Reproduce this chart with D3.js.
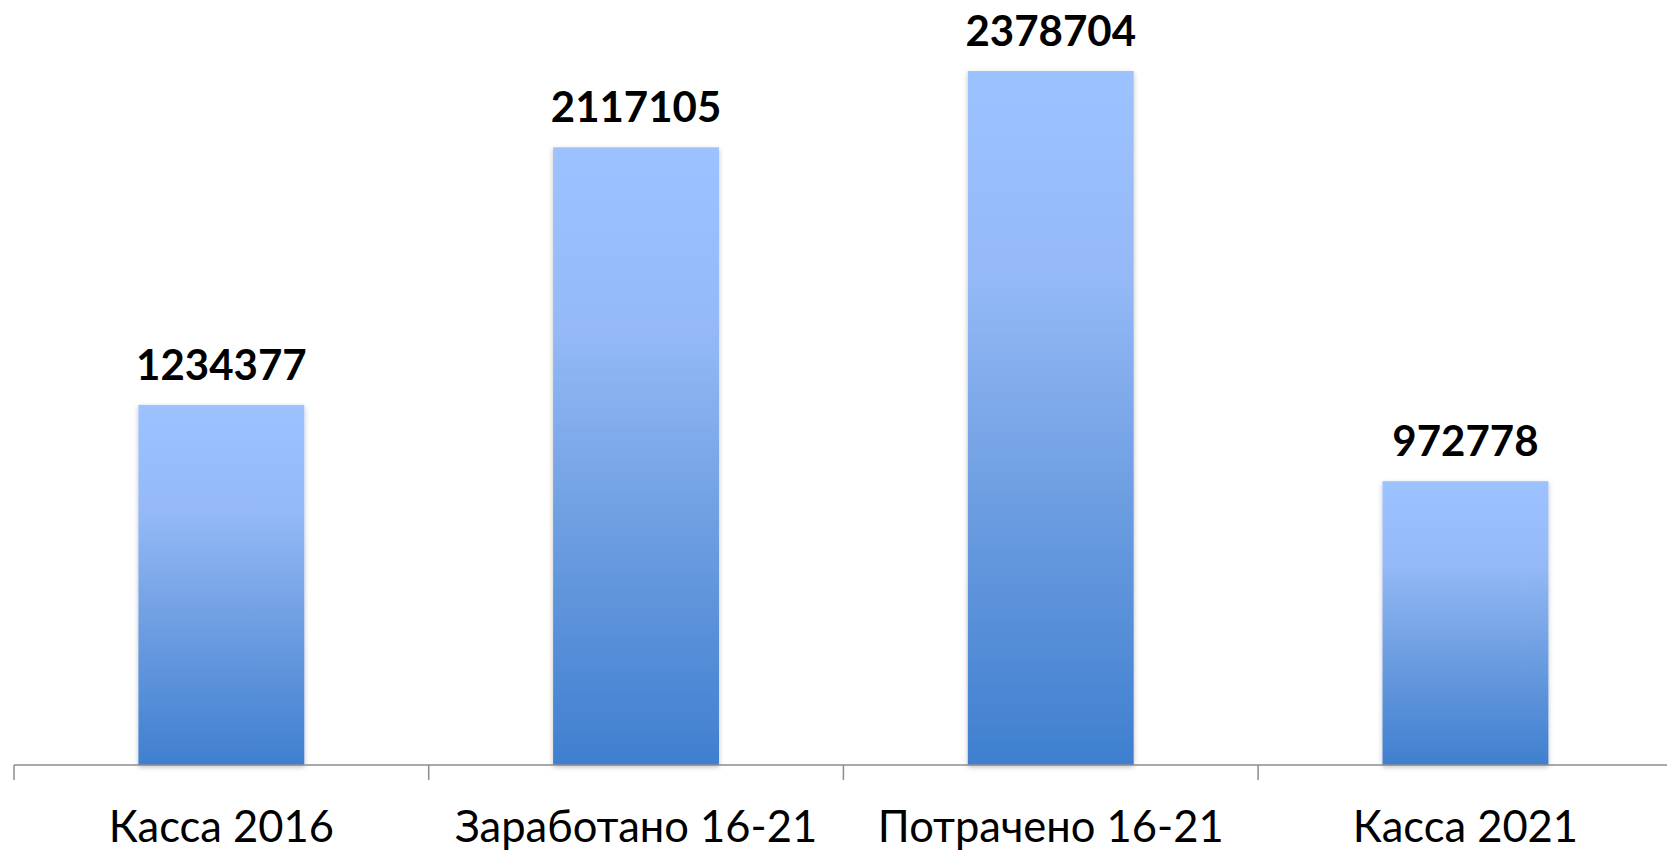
<!DOCTYPE html>
<html>
<head>
<meta charset="utf-8">
<script src="https://cdn.jsdelivr.net/npm/d3@7"></script>
<style>
  html, body { margin: 0; padding: 0; background: #ffffff; }
  svg { display: block; }
</style>
</head>
<body>
<svg id="chart" width="1667" height="852"></svg>
<script>
const categories = ["Касса 2016", "Заработано 16-21", "Потрачено 16-21", "Касса 2021"];
const values = [1234377, 2117105, 2378704, 972778];
const valueLabels = ["1234377", "2117105", "2378704", "972778"];

const W = 1667, H = 852;
const svg = d3.select("#chart");
const axisY = 765;
const x = d3.scaleBand().domain(categories).range([14, 14 + 414.7 * 4]).paddingInner(0.6).paddingOuter(0.3);
const y = d3.scaleLinear().domain([0, 2500000]).range([axisY, axisY - 2500000 * 694 / 2378704]);

const defs = svg.append("defs");
const grad = defs.append("linearGradient").attr("id", "barGrad")
  .attr("x1", 0).attr("y1", 0).attr("x2", 0).attr("y2", 1);
grad.append("stop").attr("offset", "0%").attr("stop-color", "#9cc2ff");
grad.append("stop").attr("offset", "30%").attr("stop-color", "#94b9f6");
grad.append("stop").attr("offset", "60%").attr("stop-color", "#6f9fe2");
grad.append("stop").attr("offset", "100%").attr("stop-color", "#3f7fcf");

const shadow = defs.append("filter").attr("id", "shadow")
  .attr("x", "-10%").attr("y", "-10%").attr("width", "120%").attr("height", "120%");
shadow.append("feDropShadow").attr("dx", 0).attr("dy", 2).attr("stdDeviation", 2.5)
  .attr("flood-color", "#000").attr("flood-opacity", 0.25);

svg.append("g").selectAll("rect").data(values).join("rect")
  .attr("x", (d, i) => x(categories[i]))
  .attr("y", d => y(d))
  .attr("width", x.bandwidth())
  .attr("height", d => y(0) - y(d))
  .attr("fill", "url(#barGrad)")
  .attr("filter", "url(#shadow)");

// axis
const step = x.step();
const boundaries = d3.range(categories.length + 1).map(i => x.range()[0] + i * step);
const ax = svg.append("g").attr("stroke", "#8c8c8c").attr("stroke-width", 1.5);
ax.append("line").attr("x1", 14).attr("x2", W).attr("y1", axisY).attr("y2", axisY);
ax.selectAll("line.tick").data(boundaries).join("line").attr("class", "tick")
  .attr("x1", d => d).attr("x2", d => d).attr("y1", axisY).attr("y2", axisY + 15);

// value labels
svg.append("g").selectAll("text").data(values).join("text")
  .attr("x", (d, i) => x(categories[i]) + x.bandwidth() / 2)
  .attr("y", d => y(d) - 25)
  .attr("text-anchor", "middle")
  .attr("font-family", "Lato, 'Open Sans', sans-serif")
  .attr("font-weight", "bold")
  .attr("font-size", 42)
  .attr("fill", "#000")
  .text((d, i) => valueLabels[i]);

// category labels
svg.append("g").selectAll("text").data(categories).join("text")
  .attr("x", d => x(d) + x.bandwidth() / 2)
  .attr("y", 842)
  .attr("text-anchor", "middle")
  .attr("font-family", "Lato, 'Open Sans', sans-serif")
  .attr("font-size", 43.5)
  .attr("fill", "#000")
  .text(d => d);
</script>
</body>
</html>
